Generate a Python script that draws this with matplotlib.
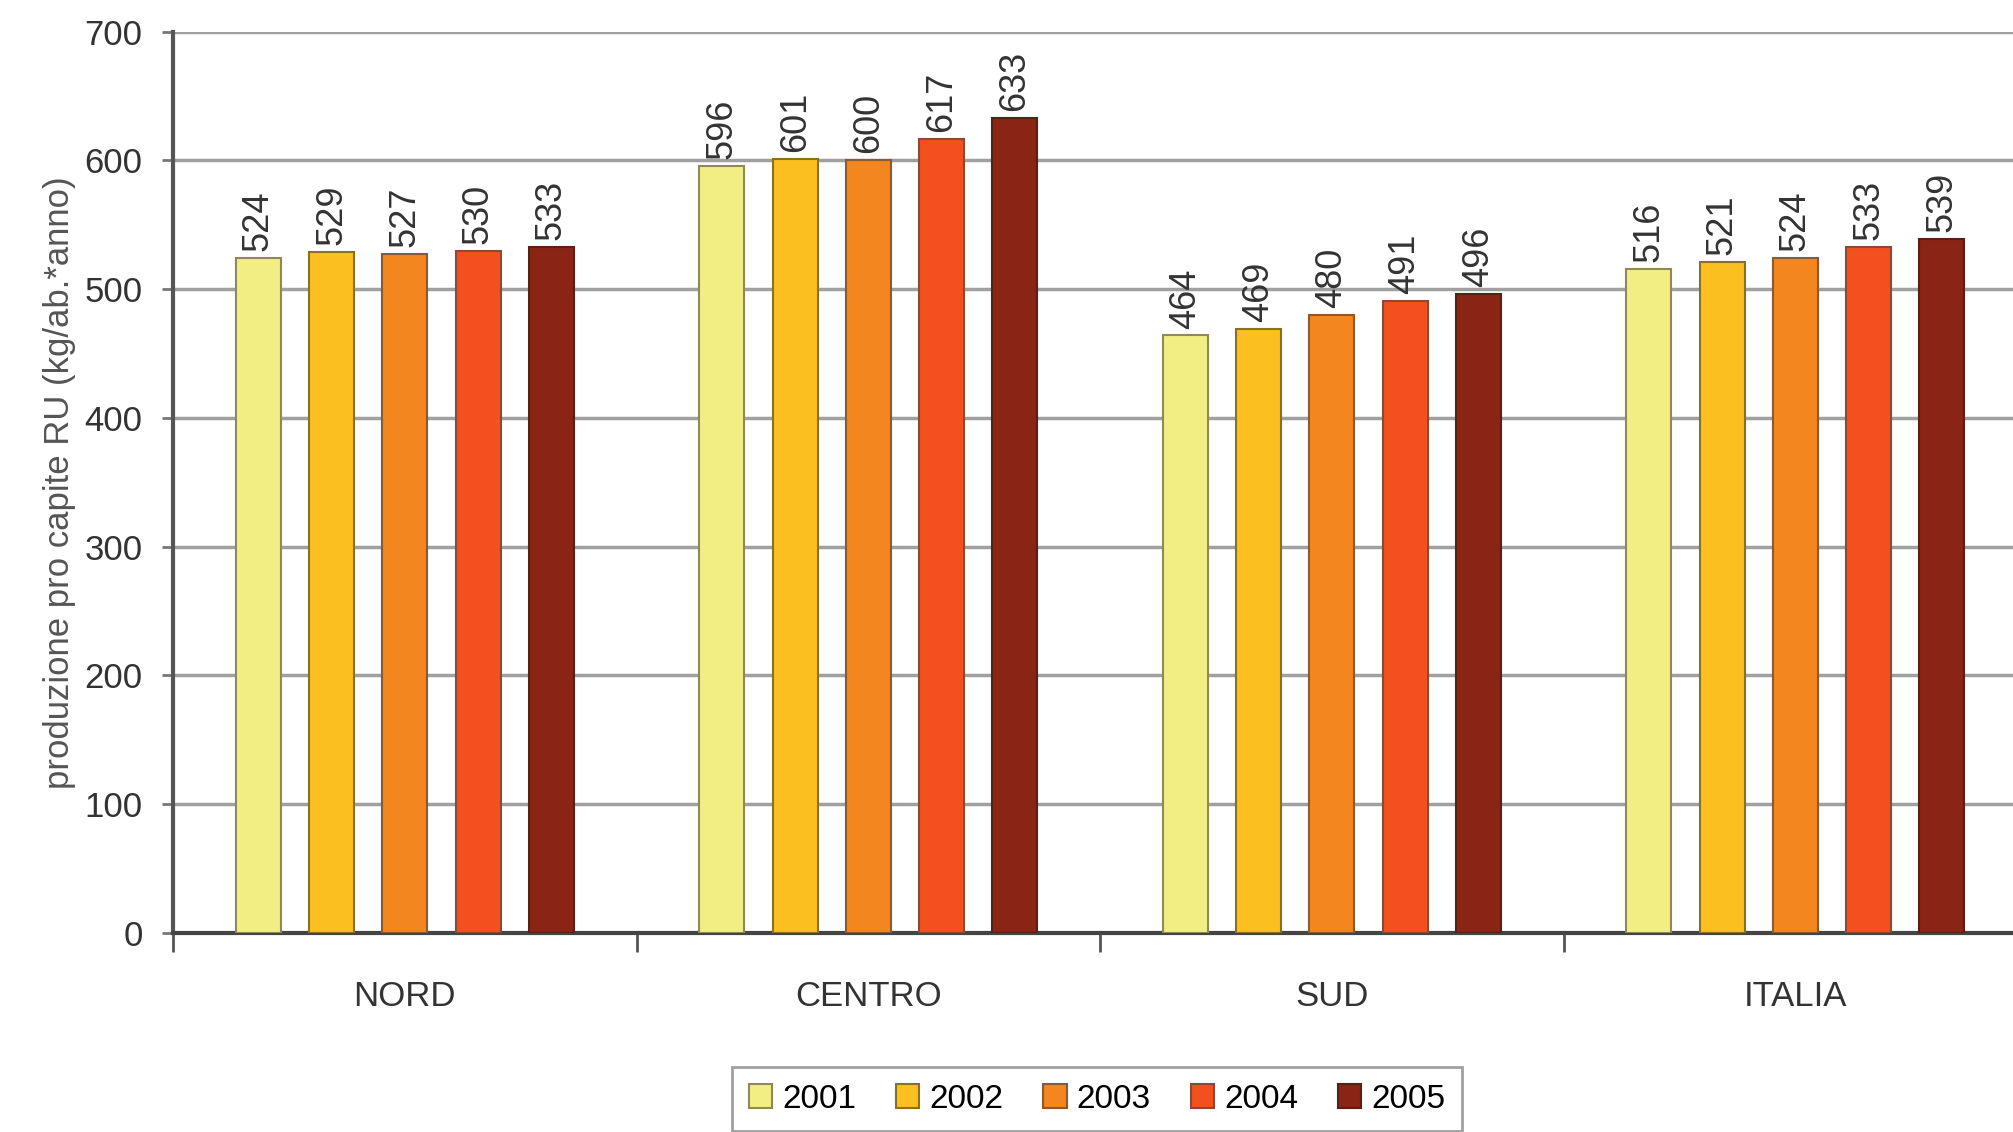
import matplotlib
matplotlib.use('Agg')
import matplotlib.pyplot as plt
import numpy as np

plt.rcParams['font.family'] = ['Liberation Sans', 'DejaVu Sans']

# data
regions = ['NORD', 'CENTRO', 'SUD', 'ITALIA']
years = ['2001', '2002', '2003', '2004', '2005']
v2001 = [524, 596, 464, 516]
v2002 = [529, 601, 469, 521]
v2003 = [527, 600, 480, 524]
v2004 = [530, 617, 491, 533]
v2005 = [533, 633, 496, 539]
series = [v2001, v2002, v2003, v2004, v2005]

colors = ['#f2ee84', '#fbbf1f', '#f3861f', '#f2501e', '#8a2414']
edges = ['#8f8a55', '#8a7020', '#8a5a30', '#8a4a35', '#5a2015']

fig = plt.figure(figsize=(20.13, 11.32), dpi=100)
ax = fig.add_axes([0.086, 0.176, 0.921, 0.796])

x = np.arange(len(regions))
width = 0.097
step = 0.158

for i in range(len(series)):
	pos = x + (i - 2) * step
	bars = ax.bar(pos, series[i], width, color=colors[i], edgecolor=edges[i],
		linewidth=1.5, label=years[i], zorder=3)
	for b, v in zip(bars, series[i]):
		ax.annotate(str(v), (b.get_x() + b.get_width() / 2, v), xytext=(0, 5),
			textcoords='offset points', rotation=90, ha='center', va='bottom',
			fontsize=26, color='#333333')

ax.set_xlim(-0.5, len(regions) - 0.5)
ax.set_ylim(0, 700)
ax.set_yticks(range(0, 701, 100))
ax.yaxis.grid(True, color='#a0a0a0', linewidth=2.5, zorder=0)
ax.set_axisbelow(True)

# category labels centred, ticks on boundaries
ax.set_xticks(x)
ax.set_xticklabels(regions)
ax.set_xticks(np.arange(-0.5, len(regions), 1.0), minor=True)
ax.tick_params(axis='x', which='major', length=0, pad=34, labelsize=25, labelcolor='#333333')
ax.tick_params(axis='x', which='minor', length=14, width=2, color='#555555')
ax.tick_params(axis='y', length=8, width=2, color='#777777', labelsize=25, labelcolor='#333333', pad=14)

for s in ['top', 'right']:
	ax.spines[s].set_visible(False)
ax.spines['left'].set_color('#555555')
ax.spines['left'].set_linewidth(3)
ax.spines['bottom'].set_color('#444444')
ax.spines['bottom'].set_linewidth(3)

ax.set_ylabel('produzione pro capite RU (kg/ab.*anno)', fontsize=25, color='#555555', labelpad=6)

leg = fig.legend(loc='upper center', bbox_to_anchor=(0.545, 0.072), ncol=5, fontsize=24,
	frameon=True, fancybox=False, edgecolor='#888888', handlelength=0.7, handleheight=0.7,
	handletextpad=0.3, columnspacing=1.2, borderpad=0.5)
leg.get_frame().set_linewidth(2)

plt.savefig('out.png', dpi=100)
